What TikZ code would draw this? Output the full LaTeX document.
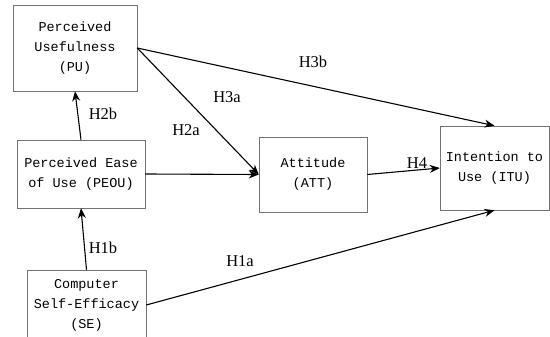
\documentclass[tikz,border=0pt]{standalone}
\usepackage{fontspec}
\setmainfont{Liberation Serif}
\setmonofont{Liberation Mono}
\usetikzlibrary{arrows.meta}
\begin{document}
\begin{tikzpicture}[x=1pt,y=-1pt,
  box/.style={draw=black!55,line width=0.5pt,inner sep=0pt,align=center,
    font=\ttfamily\fontsize{13.5}{20}\selectfont},
  link/.style={line width=1.1pt,-{Stealth[length=10pt,width=8pt]}},
  hlab/.style={font=\fontsize{16.5}{18}\selectfont}]
\useasboundingbox (0,0) rectangle (550,337);
\clip (0,0) rectangle (550,337);
\node[box,minimum width=124pt,minimum height=86pt] (PU) at (75,48) {Perceived\\Usefulness\\(PU)};
\node[box,minimum width=128pt,minimum height=68pt] (PEOU) at (81,174) {Perceived Ease\\of Use (PEOU)};
\node[box,minimum width=119pt,minimum height=70pt] (SE) at (86.5,305) {Computer\\Self-Efficacy\\(SE)};
\node[box,minimum width=108pt,minimum height=75pt] (ATT) at (313,174.5) {Attitude\\(ATT)};
\node[box,minimum width=109pt,minimum height=84pt] (ITU) at (494.5,168) {Intention to\\Use (ITU)};
\draw[link] (PEOU.north) -- (PU.south);
\draw[link] (SE.north) -- (PEOU.south);
\draw[link] (PU.east) -- (ATT.west);
\draw[link] (PU.east) -- (ITU.north);
\draw[link] (PEOU.east) -- (ATT.west);
\draw[link] (ATT.east) -- (ITU.west);
\draw[link] (SE.east) -- (ITU.south);
\node[hlab] (l2b) at (103,114) {H2b};
\node[hlab] (l1b) at (103,248) {H1b};
\node[hlab] (l3a) at (227,97) {H3a};
\node[hlab] (l3b) at (313,62) {H3b};
\node[hlab] (l2a) at (186,130) {H2a};
\node[hlab] (l4) at (417,163) {H4};
\node[hlab] (l1a) at (240,261) {H1a};
\end{tikzpicture}
\end{document}
